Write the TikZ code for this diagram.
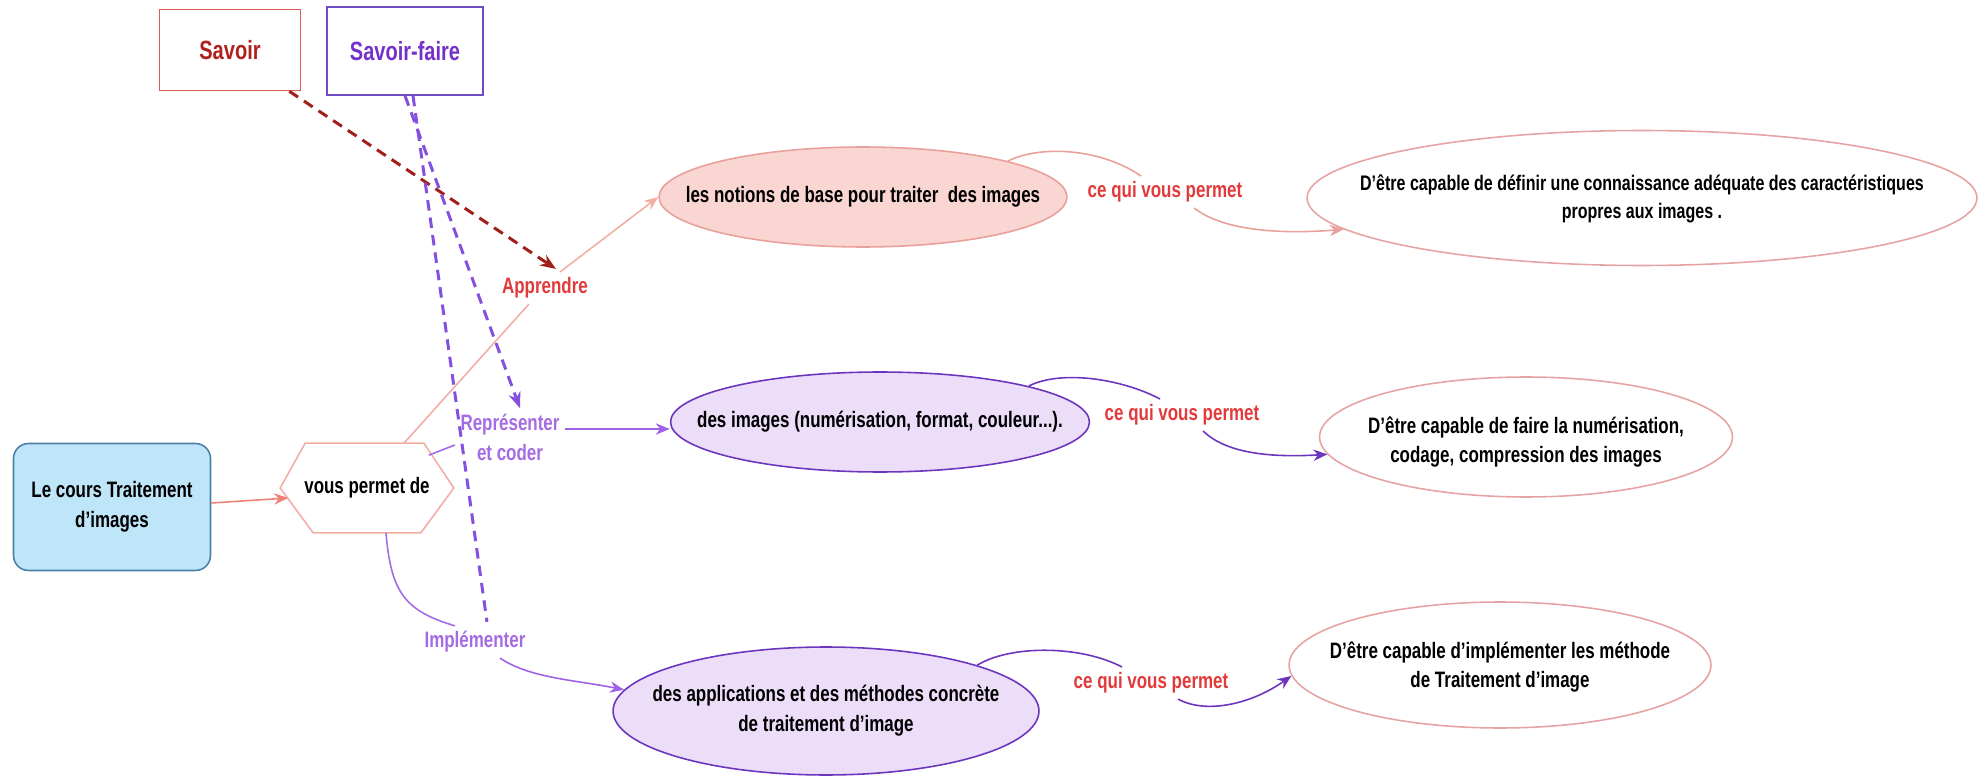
\documentclass[tikz,border=0pt]{standalone}
\usepackage{fontspec}
\setmainfont{Liberation Sans}[FakeStretch=0.76]
\usetikzlibrary{shapes,arrows.meta,calc}

\definecolor{savred}{HTML}{B0201C}
\definecolor{boxred}{HTML}{E05A55}
\definecolor{savpurple}{HTML}{7430C8}
\definecolor{boxpurple}{HTML}{6F4CC6}
\definecolor{darkred}{HTML}{A11F1A}
\definecolor{hexpink}{HTML}{F3ADA5}
\definecolor{salmon}{HTML}{F08078}
\definecolor{rosefill}{HTML}{F9D6D1}
\definecolor{rosedge}{HTML}{E9A09A}
\definecolor{targetedge}{HTML}{E6A3A3}
\definecolor{lilacfill}{HTML}{ECDDF9}
\definecolor{deeppurple}{HTML}{6B35BE}
\definecolor{lilac}{HTML}{A46BE3}
\definecolor{lilacline}{HTML}{9E62E6}
\definecolor{lilacdash}{HTML}{8450DF}
\definecolor{permetred}{HTML}{E23A3A}
\definecolor{coursblue}{HTML}{BEE5F8}
\definecolor{coursedge}{HTML}{4C80A8}

\begin{document}
\begin{tikzpicture}[
    x=0.02cm, y=-0.02cm,
    txt/.style={font=\fontsize{12.7}{17}\selectfont\bfseries, align=center, inner sep=3pt},
    headbox/.style={rectangle, draw, line width=0.9pt, font=\fontsize{15}{17}\selectfont\bfseries},
    bubble/.style={ellipse, draw, line width=0.9pt, inner sep=0pt},
    link/.style={line width=0.9pt},
    arrow/.style={link, -{Stealth[length=8pt, width=6.5pt]}},
    dashlink/.style={line width=1.7pt, dash pattern=on 6pt off 4pt}
]
\useasboundingbox (0,0) rectangle (1986,776);

% Savoir / Savoir-faire (top)
\node[headbox, draw=boxred, text=savred, minimum width=2.82cm, minimum height=1.62cm] (savoir) at (230,50) {Savoir};
\node[headbox, draw=boxpurple, text=savpurple, minimum width=3.12cm, minimum height=1.76cm] (savoirfaire) at (405,51) {Savoir-faire};

% Course and hexagon
\node[txt, draw=coursedge, fill=coursblue, rounded corners=0.3cm, line width=0.9pt, minimum width=3.94cm, minimum height=2.54cm] (cours) at (112,507) {Le cours Traitement\\d'images};
\node[txt, minimum width=3.46cm, minimum height=1.78cm] (hex) at (367,488) {vous permet de};
\draw[link, hexpink] (hex.west) -- ([xshift=0.5cm]hex.north west) -- ([xshift=-0.6cm]hex.north east) -- (hex.east)
    -- ([xshift=-0.66cm]hex.south east) -- ([xshift=0.66cm]hex.south west) -- cycle;

% Middle column
\node[bubble, draw=rosedge, fill=rosefill, minimum width=8.16cm, minimum height=2cm] (notions) at (863,197) {};
\node[txt] (notionstxt) at (notions) {les notions de base pour traiter~ des images};
\node[bubble, draw=deeppurple, fill=lilacfill, minimum width=8.38cm, minimum height=2cm] (images) at (880,422) {};
\node[txt] (imagestxt) at (images) {des images (numérisation, format, couleur...).};
\node[bubble, draw=deeppurple, fill=lilacfill, minimum width=8.52cm, minimum height=2.56cm] (applis) at (826,711) {};
\node[txt] (applistxt) at (applis) {des applications et des méthodes concrète\\de traitement d'image};

% Right column
\node[bubble, draw=targetedge, minimum width=13.4cm, minimum height=2.7cm] (t1) at (1642,198) {};
\node[txt, font=\fontsize{12}{16}\selectfont\bfseries] (t1txt) at (1642,199) {D'être capable de définir une connaissance adéquate des caractéristiques\\propres aux images .};
\node[bubble, draw=targetedge, minimum width=8.26cm, minimum height=2.4cm] (t2) at (1526,437) {};
\node[txt] (t2txt) at (1526,442) {D'être capable de faire la numérisation,\\codage, compression des images};
\node[bubble, draw=targetedge, minimum width=8.44cm, minimum height=2.52cm] (t3) at (1500,665) {};
\node[txt] (t3txt) at (1500,667) {D'être capable d'implémenter les méthode\\de Traitement d'image};

% Labels
\node[txt, text=permetred] (apprendre) at (545,288) {Apprendre};
\node[txt, text=lilac] (repr) at (510,437) {Représenter\\et coder};
\node[txt, text=lilac] (impl) at (475,642) {Implémenter};
\node[txt, text=permetred] (lab1) at (1165,192) {ce qui vous permet};
\node[txt, text=permetred] (lab2) at (1182,415) {ce qui vous permet};
\node[txt, text=permetred] (lab3) at (1151,683) {ce qui vous permet};

% Course -> hexagon -> branches
\draw[arrow, salmon] ([yshift=0.08cm]cours.east) -- ([xshift=0.16cm,yshift=-0.2cm]hex.west);
\draw[link, hexpink] ([xshift=0.74cm]hex.north) -- ([xshift=-0.32cm]apprendre.south);
\draw[arrow, hexpink] ([xshift=0.3cm]apprendre.north) -- (notions.west);
\draw[link, lilac] ([xshift=-0.5cm,yshift=-0.24cm]hex.north east) -- ([yshift=-0.16cm]repr.west);
\draw[arrow, lilacline] ([yshift=0.16cm]repr.east) -- ([yshift=-0.14cm]images.west);
\draw[link, lilac] ([xshift=0.38cm]hex.south) .. controls +(0.1cm,-1.2cm) and +(-1cm,0.3cm) .. ([xshift=-0.4cm]impl.north);
\draw[arrow, lilacline] ([xshift=0.5cm]impl.south) .. controls +(0.6cm,-0.4cm) and +(-1cm,0.2cm) .. (applis.174);

% Dashed links from the top boxes
\draw[dashlink, darkred, -{Stealth[length=9pt, width=7pt]}] ([xshift=-0.24cm]savoir.south east) -- ([xshift=0.22cm,yshift=0.06cm]apprendre.north);
\draw[dashlink, lilacdash, -{Stealth[length=9pt, width=7pt]}] (savoirfaire.south) -- ([xshift=0.2cm]repr.north);
\draw[dashlink, lilacdash] ([xshift=0.16cm]savoirfaire.south) -- ([xshift=0.24cm,yshift=0.08cm]impl.north);

% "ce qui vous permet" curves
\draw[link, rosedge] (notions.north east) .. controls (1040,145) and (1100,148) .. ([xshift=-0.48cm]lab1.north);
\draw[arrow, rosedge] ([xshift=0.58cm]lab1.south) .. controls (1225,232) and (1285,234) .. (t1.186);
\draw[link, deeppurple] (images.north east) .. controls (1060,370) and (1120,378) .. ([xshift=-0.44cm]lab2.north);
\draw[arrow, deeppurple] ([xshift=0.42cm]lab2.south) .. controls (1225,452) and (1265,458) .. (t2.185);
\draw[link, deeppurple] (applis.north east) .. controls (1010,645) and (1080,645) .. ([xshift=-0.58cm]lab3.north);
\draw[arrow, deeppurple] ([xshift=0.54cm]lab3.south) .. controls (1205,714) and (1250,705) .. (t3.183);

\end{tikzpicture}
\end{document}
